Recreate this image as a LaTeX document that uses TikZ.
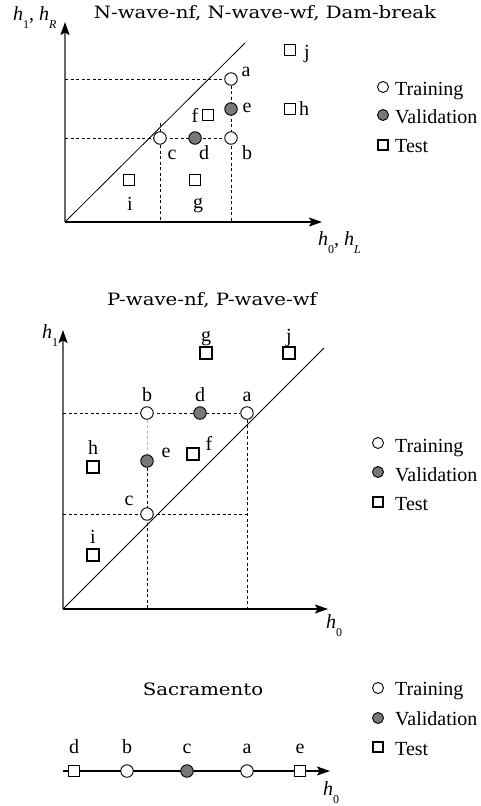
\documentclass[tikz,border=0pt]{standalone}
\usepackage{fontspec}
\setmainfont{Liberation Serif}
\newfontfamily\titlefont{DejaVu Serif}
\usetikzlibrary{arrows.meta,backgrounds}
\definecolor{valgray}{RGB}{120,120,120}
\definecolor{axgray}{RGB}{105,105,105}
\newcommand\hlab[1]{\textit{h}\raisebox{-8pt}{\fontsize{12}{12}\selectfont #1}}
\begin{document}
\begin{tikzpicture}[x=1pt,y=-1pt,
  every node/.style={font=\fontsize{20}{24}\selectfont},
  train/.style={circle, draw, fill=white, minimum size=12.5pt, inner sep=0pt, line width=0.9pt},
  valid/.style={circle, draw, fill=valgray, minimum size=12.5pt, inner sep=0pt, line width=0.9pt},
  testsq/.style={rectangle, draw, fill=white, minimum size=11pt, inner sep=0pt, line width=1.6pt},
  ltrain/.style={train, minimum size=11pt},
  lvalid/.style={valid, minimum size=11pt},
  ltest/.style={testsq, minimum size=10.5pt},
  lab/.style={anchor=base, inner sep=0pt},
  legtext/.style={anchor=base west, inner sep=0pt},
  axlab/.style={anchor=base west, inner sep=0pt},
  titletext/.style={anchor=base, inner sep=0pt, font=\titlefont\fontsize{17}{20}\selectfont},
  tip/.style={-{Stealth[length=13pt,width=9pt,inset=2.5pt,color=black]}},
  yaxis/.style={tip, draw=axgray, line width=1.8pt},
  xaxis/.style={tip, draw=black, line width=1.4pt},
  diag/.style={line width=0.8pt},
  dashline/.style={dash pattern=on 3pt off 2.5pt, line width=0.8pt},
  graydash/.style={dashline, draw=gray!60}
]
\useasboundingbox (0,0) rectangle (481,806);

%% ---------------- Panel 1 ----------------
\node[titletext] (t1) at (265,18.5) {\scalebox{1.16}[1]{N-wave-nf, N-wave-wf, Dam-break}};
\coordinate (o1) at (65,222);
\coordinate (y1) at (65,22);
\coordinate (x1) at (322,222);
\coordinate (d1) at (245,43);
\coordinate (c1top) at (160,123);

\node[train] (p1a) at (231,79) {};
\node[valid] (p1e) at (231,109) {};
\node[train] (p1b) at (231,138) {};
\node[train] (p1c) at (160,138) {};
\node[valid] (p1d) at (195,138) {};
\node[testsq] (p1f) at (208,115) {};
\node[testsq] (p1g) at (195,180) {};
\node[testsq] (p1i) at (129,180) {};
\node[testsq] (p1h) at (290,109) {};
\node[testsq] (p1j) at (290,50) {};

\node[lab] (l1a) at (246,76) {a};
\node[lab] (l1e) at (247,112) {e};
\node[lab] (l1b) at (247,159) {b};
\node[lab] (l1c) at (172,159) {c};
\node[lab] (l1d) at (204,159) {d};
\node[lab] (l1f) at (195,122) {f};
\node[lab] (l1h) at (304,115) {h};
\node[lab] (l1j) at (307,58) {j};
\node[lab] (l1i) at (130,210) {i};
\node[lab] (l1g) at (198,208) {g};

\node[axlab] (ax1y) at (13,20) {\hlab{1}, \hlab{\textit{R}}};
\node[axlab] (ax1x) at (318,245) {\hlab{0}, \hlab{\textit{L}}};

\begin{scope}[on background layer]
  \draw[yaxis] (o1) -- (y1);
  \draw[xaxis] (o1) -- (x1);
  \draw[diag] (o1) -- (d1);
  \draw[dashline] (p1a -| o1) -- (p1a);
  \draw[dashline] (p1c -| o1) -- (p1b);
  \draw[dashline] (p1a) -- (p1a |- o1);
  \draw[dashline] (c1top) -- (p1c |- o1);
\end{scope}

\node[ltrain] (g1t) at (383,87) {};
\node[lvalid] (g1v) at (383,115) {};
\node[ltest] (g1s) at (383,145) {};
\node[legtext] (g1tt) at (395,95) {Training};
\node[legtext] (g1vt) at (395,123) {Validation};
\node[legtext] (g1st) at (395,152) {Test};

%% ---------------- Panel 2 ----------------
\node[titletext] (t2) at (212,305) {\scalebox{1.16}[1]{P-wave-nf, P-wave-wf}};
\coordinate (o2) at (63,609);
\coordinate (y2) at (63,330);
\coordinate (x2) at (328,609);
\coordinate (d2) at (324,348);

\node[train] (p2b) at (147,413) {};
\node[valid] (p2d) at (200,413) {};
\node[train] (p2a) at (247,413) {};
\node[valid] (p2e) at (147,461) {};
\node[train] (p2c) at (147,514) {};
\node[testsq, minimum size=12pt] (p2f) at (193,454) {};
\node[testsq, minimum size=12pt] (p2h) at (93,467) {};
\node[testsq, minimum size=12pt] (p2i) at (93,555) {};
\node[testsq, minimum size=12pt] (p2g) at (206,353) {};
\node[testsq, minimum size=12pt] (p2j) at (289,353) {};

\node[lab] (l2b) at (147,401) {b};
\node[lab] (l2d) at (200,401) {d};
\node[lab] (l2a) at (247,401) {a};
\node[lab] (l2e) at (166,457) {e};
\node[lab] (l2f) at (209,450) {f};
\node[lab] (l2h) at (93,454) {h};
\node[lab] (l2c) at (129,505) {c};
\node[lab] (l2i) at (93,543) {i};
\node[lab] (l2g) at (206,341) {g};
\node[lab] (l2j) at (289,342) {j};

\node[axlab] (ax2y) at (42,338) {\hlab{1}};
\node[axlab] (ax2x) at (326,628) {\hlab{0}};

\begin{scope}[on background layer]
  \draw[yaxis] (o2) -- (y2);
  \draw[xaxis] (o2) -- (x2);
  \draw[diag] (o2) -- (d2);
  \draw[dashline] (p2b -| o2) -- (p2a);
  \draw[dashline] (p2c -| o2) -- (p2c -| p2a);
  \draw[graydash] (p2b) -- (p2e);
  \draw[dashline] (p2e) -- (p2c |- o2);
  \draw[dashline] (p2a) -- (p2a |- o2);
\end{scope}

\node[ltrain] (g2t) at (378,443) {};
\node[lvalid] (g2v) at (378,472) {};
\node[ltest] (g2s) at (378,502) {};
\node[legtext] (g2tt) at (395,452) {Training};
\node[legtext] (g2vt) at (395,481) {Validation};
\node[legtext] (g2st) at (395,510) {Test};

%% ---------------- Panel 3 ----------------
\node[titletext] (t3) at (203,695) {\scalebox{1.16}[1]{Sacramento}};
\coordinate (s0) at (63,771);
\coordinate (s1) at (330,771);

\node[testsq] (p3d) at (74,771) {};
\node[train] (p3b) at (127,771) {};
\node[valid] (p3c) at (187,771) {};
\node[train] (p3a) at (247,771) {};
\node[testsq] (p3e) at (300,771) {};

\node[lab] (l3d) at (74,753) {d};
\node[lab] (l3b) at (127,753) {b};
\node[lab] (l3c) at (187,753) {c};
\node[lab] (l3a) at (247,753) {a};
\node[lab] (l3e) at (300,753) {e};

\node[axlab] (ax3x) at (323,795) {\hlab{0}};

\begin{scope}[on background layer]
  \draw[xaxis] (s0) -- (s1);
\end{scope}

\node[ltrain] (g3t) at (378,688) {};
\node[lvalid] (g3v) at (378,718) {};
\node[ltest] (g3s) at (378,747) {};
\node[legtext] (g3tt) at (395,695) {Training};
\node[legtext] (g3vt) at (395,725) {Validation};
\node[legtext] (g3st) at (395,755) {Test};
\end{tikzpicture}
\end{document}
